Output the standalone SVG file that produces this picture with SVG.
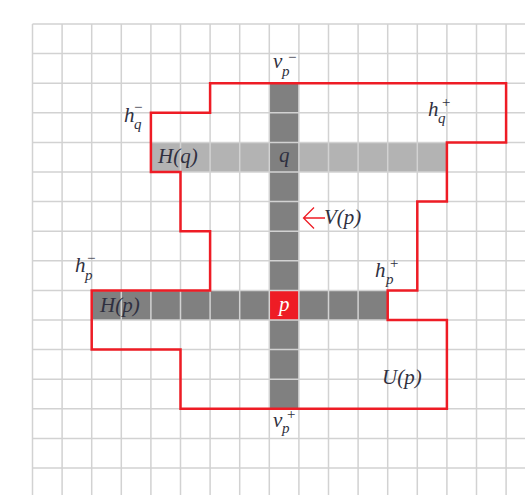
<svg xmlns="http://www.w3.org/2000/svg" width="525" height="495" viewBox="0 0 525 495">
<style>
.t{font-family:"Liberation Serif","Times New Roman",serif;font-style:italic;fill:#2f3040;font-size:21px}
.s{font-family:"Liberation Serif","Times New Roman",serif;font-style:italic;fill:#2f3040;font-size:15px}
.dk{fill:#808080}
.lt{fill:#b3b3b3}
.grid{stroke:#d2d2d2;stroke-width:1.5;fill:none}
.red{stroke:#ee1c25;stroke-width:2.5;fill:none;stroke-linejoin:miter}
</style>
<rect width="525" height="495" fill="#ffffff"/>
<g id="cells">
<rect class="lt" x="150.9" y="142.4" width="296" height="29.6"/>
<rect class="dk" x="91.7" y="290.4" width="296" height="29.6"/>
<rect class="dk" x="269.3" y="83.2" width="29.6" height="325.6"/>
<rect id="p-cell" x="269.3" y="290.4" width="29.6" height="29.6" fill="#ee1c25"/>
</g>
<path class="grid" d="M32.5 24V495M62.1 24V495M91.7 24V495M121.3 24V495M150.9 24V495M180.5 24V495M210.1 24V495M239.7 24V495M269.3 24V495M298.9 24V495M328.5 24V495M358.1 24V495M387.7 24V495M417.3 24V495M446.9 24V495M476.5 24V495M506.1 24V495M32.5 24H525M32.5 53.6H525M32.5 83.2H525M32.5 112.8H525M32.5 142.4H525M32.5 172H525M32.5 201.6H525M32.5 231.2H525M32.5 260.8H525M32.5 290.4H525M32.5 320H525M32.5 349.6H525M32.5 379.2H525M32.5 408.8H525M32.5 438.4H525M32.5 468H525"/>
<g id="U-region">
<polygon class="red" points="210.1,83.2 506.1,83.2 506.1,142.4 446.9,142.4 446.9,201.6 417.3,201.6 417.3,290.4 387.7,290.4 387.7,320 446.9,320 446.9,408.8 180.5,408.8 180.5,349.6 91.7,349.6 91.7,290.4 210.1,290.4 210.1,231.2 180.5,231.2 180.5,172 150.9,172 150.9,112.8 210.1,112.8"/>
<text class="t" x="382" y="384">U(p)</text>
</g>
<g id="connectors">
<path d="M325 218H304M314 207.5L303.5 218L314 228.5" stroke="#ee1c25" stroke-width="1.3" fill="none"/>
</g>
<g id="Vp"><text class="t" x="324" y="224">V(p)</text></g>
<g id="Hq"><text class="t" x="158" y="163">H(q)</text></g>
<g id="q"><text class="t" x="279" y="162">q</text></g>
<g id="Hp"><text class="t" x="100" y="312">H(p)</text></g>
<g id="p"><text class="t" x="279" y="311" style="fill:#ffffff">p</text></g>
<g id="vp-minus"><text class="t" x="273" y="68">v</text><text class="s" x="282" y="76">p</text><text class="s" x="287" y="62">−</text></g>
<g id="vp-plus"><text class="t" x="273" y="427">v</text><text class="s" x="282" y="433">p</text><text class="s" x="286" y="419">+</text></g>
<g id="hq-minus"><text class="t" x="124" y="122">h</text><text class="s" x="134" y="129">q</text><text class="s" x="133" y="112">−</text></g>
<g id="hq-plus"><text class="t" x="428" y="116">h</text><text class="s" x="438" y="123">q</text><text class="s" x="441" y="107">+</text></g>
<g id="hp-minus"><text class="t" x="75" y="272">h</text><text class="s" x="85" y="280">p</text><text class="s" x="86" y="263">−</text></g>
<g id="hp-plus"><text class="t" x="375" y="277">h</text><text class="s" x="386" y="284">p</text><text class="s" x="389" y="268">+</text></g>
</svg>
